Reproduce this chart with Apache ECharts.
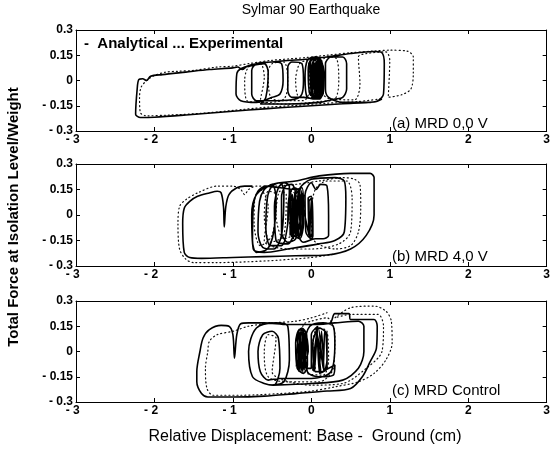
<!DOCTYPE html>
<html>
<head>
<meta charset="utf-8">
<script src="https://cdn.jsdelivr.net/npm/echarts@6/dist/echarts.min.js"></script>
<style>
  html, body { margin: 0; padding: 0; background: #fff; }
  #chart { width: 553px; height: 449px; }
</style>
</head>
<body>
<div id="chart"></div>
<script>
// tick values
const xTicks = [-3, -2, -1, 0, 1, 2, 3]
const yTicks = [-0.3, -0.15, 0, 0.15, 0.3]
const panelLabels = ['(a) MRD 0,0 V', '(b) MRD 4,0 V', '(c) MRD Control']

// (a) MRD 0,0 V  -- [displacement cm, force/weight]
const aAnalytical = [
  [0.0, -0.09], [-0.02, 0.1], [0.02, 0.13], [0.04, -0.08], [0.06, 0.12], [0.08, -0.09], [0.1, 0.12],
  [0.11, -0.08], [0.03, -0.1], [-0.01, 0.12], [0.05, 0.14], [0.07, -0.09], [0.09, 0.13], [0.12, -0.07],
  [0.01, -0.1], [0.03, 0.13], [0.05, -0.1], [0.08, 0.14], [0.1, -0.09], [0.12, 0.12], [0.0, -0.08],
  [0.02, -0.02], [0.05, 0.1], [0.1, 0.12], [0.12, 0.02], [0.1, -0.08], [0.04, -0.09], [0.0, 0.0],
  [0.02, 0.11], [0.08, 0.13], [0.13, 0.08], [0.13, -0.07], [0.08, -0.1], [-0.02, -0.08], [-0.04, 0.06],
  [0.0, 0.13], [0.08, 0.14], [0.14, 0.1], [0.15, -0.06], [0.1, -0.11], [-0.05, -0.1], [-0.08, 0.02],
  [-0.05, 0.12], [0.05, 0.14], [0.12, 0.12], [0.16, 0.05], [0.15, -0.08], [0.05, -0.11], [-0.1, -0.1],
  [-0.25, -0.1], [-0.3, -0.06], [-0.3, 0.08], [-0.25, 0.11], [-0.12, 0.1], [-0.1, 0.0], [-0.12, -0.08],
  [-0.2, -0.11], [-0.45, -0.12], [-0.7, -0.12], [-0.76, -0.08], [-0.76, 0.06], [-0.7, 0.1], [-0.5, 0.11],
  [-0.38, 0.1], [-0.36, 0.0], [-0.4, -0.08], [-0.5, -0.1], [-0.7, -0.13], [-0.9, -0.12], [-0.96, -0.08],
  [-0.95, 0.04], [-0.9, 0.07], [-0.75, 0.09], [-0.6, 0.1], [-0.55, 0.05], [-0.58, -0.1], [-0.65, -0.14],
  [-0.3, -0.14], [0.1, -0.13], [0.3, -0.11], [0.4, -0.1], [0.45, -0.05], [0.45, 0.1], [0.4, 0.14],
  [0.25, 0.14], [0.18, 0.1], [0.18, -0.05], [0.22, -0.1], [0.4, -0.13], [0.7, -0.13], [0.85, -0.12],
  [0.92, -0.08], [0.93, 0.1], [0.9, 0.165], [0.8, 0.172], [0.5, 0.16], [0.2, 0.14], [-0.1, 0.125],
  [-0.4, 0.115], [-0.7, 0.1], [-0.82, 0.085], [-0.88, 0.065], [-0.94, 0.08], [-1.0, 0.075],
  [-1.3, 0.065], [-1.6, 0.05], [-1.9, 0.035], [-2.05, 0.025], [-2.1, 0.0], [-2.15, 0.01], [-2.2, 0.005],
  [-2.22, -0.05], [-2.24, -0.2], [-2.18, -0.22], [-2.0, -0.218], [-1.6, -0.205], [-1.2, -0.19],
  [-0.8, -0.175], [-0.4, -0.162], [0.0, -0.15], [0.4, -0.138], [0.8, -0.128], [0.9, -0.11]
]
const aExperimental = [
  [0.05, -0.09], [0.0, 0.05], [0.05, 0.12], [0.1, 0.1], [0.1, -0.05], [0.05, -0.1], [-0.15, -0.1],
  [-0.2, 0.0], [-0.15, 0.1], [-0.05, 0.12], [-0.02, -0.05], [-0.1, -0.12], [-0.35, -0.12], [-0.52, -0.1],
  [-0.55, 0.05], [-0.5, 0.1], [-0.35, 0.11], [-0.3, 0.0], [-0.35, -0.11], [-0.6, -0.13], [-0.82, -0.12],
  [-0.85, 0.0], [-0.8, 0.08], [-0.65, 0.1], [-0.6, 0.02], [-0.65, -0.12], [-0.3, -0.14], [0.1, -0.125],
  [0.3, -0.11], [0.35, 0.0], [0.32, 0.13], [0.2, 0.14], [0.12, 0.1], [0.15, -0.08], [0.25, -0.11],
  [0.55, -0.115], [0.62, -0.02], [0.6, 0.14], [0.7, 0.16], [0.95, 0.17], [1.0, 0.12], [0.98, -0.1],
  [1.15, -0.085], [1.27, -0.05], [1.3, 0.05], [1.3, 0.14], [1.22, 0.175], [1.0, 0.18], [0.8, 0.175],
  [0.5, 0.165], [0.2, 0.15], [-0.1, 0.135], [-0.5, 0.12], [-0.8, 0.1], [-1.0, 0.085], [-1.2, 0.08],
  [-1.5, 0.06], [-1.7, 0.055], [-1.85, 0.05], [-2.0, 0.03], [-2.1, 0.0], [-2.17, -0.04], [-2.19, -0.1],
  [-2.18, -0.19], [-2.1, -0.21], [-1.8, -0.205], [-1.4, -0.195], [-1.0, -0.178], [-0.6, -0.16],
  [-0.2, -0.148], [0.2, -0.135], [0.6, -0.125], [0.9, -0.108]
]

// (b) MRD 4,0 V
const bAnalytical = [
  [-0.3, -0.05], [-0.28, 0.12], [-0.22, 0.16], [-0.15, 0.14], [-0.14, 0.0], [-0.2, -0.14], [-0.3, -0.16],
  [-0.38, -0.1], [-0.38, 0.1], [-0.33, 0.17], [-0.25, 0.18], [-0.2, 0.12], [-0.22, -0.1], [-0.3, -0.17],
  [-0.45, -0.15], [-0.47, 0.05], [-0.42, 0.16], [-0.35, 0.19], [-0.28, 0.17], [-0.3, -0.05], [-0.38, -0.18],
  [-0.52, -0.18], [-0.58, -0.08], [-0.56, 0.1], [-0.5, 0.17], [-0.4, 0.19], [-0.35, 0.14], [-0.38, -0.12],
  [-0.48, -0.2], [-0.62, -0.19], [-0.68, -0.1], [-0.66, 0.08], [-0.6, 0.15], [-0.5, 0.18], [-0.45, 0.1],
  [-0.48, -0.1], [-0.56, -0.2], [-0.7, -0.22], [-0.75, -0.15], [-0.74, 0.05], [-0.68, 0.14], [-0.58, 0.17],
  [-0.2, 0.15], [-0.12, 0.16], [-0.1, 0.05], [-0.15, -0.12], [-0.22, -0.08], [-0.2, 0.12], [-0.14, 0.15],
  [-0.1, -0.05], [-0.15, -0.14], [-0.25, -0.1], [-0.24, 0.12], [-0.2, -0.12], [-0.17, 0.13],
  [-0.13, -0.13], [-0.1, 0.12], [-0.27, -0.12], [-0.26, 0.13], [-0.19, -0.13], [-0.16, 0.14],
  [-0.23, -0.14], [-0.21, 0.14], [-0.15, -0.13], [-0.12, 0.13], [-0.25, -0.13], [-0.18, 0.15],
  [-0.03, -0.12], [-0.04, 0.1], [0.0, 0.11], [0.02, -0.1], [-0.02, -0.13], [0.0, 0.1], [0.01, -0.12],
  [-0.01, -0.13], [-0.03, 0.08], [0.01, 0.1], [0.02, -0.12], [0.0, -0.14], [-0.07, -0.1], [-0.08, 0.12],
  [0.0, 0.19], [0.06, 0.15], [0.12, 0.18], [0.2, 0.17], [0.22, 0.0], [0.22, -0.12], [0.15, -0.14],
  [0.05, -0.14], [-0.1, -0.16], [-0.18, -0.1], [-0.16, 0.14], [0.0, 0.21], [0.3, 0.22], [0.42, 0.2],
  [0.44, 0.1], [0.42, -0.1], [0.3, -0.15], [0.1, -0.17], [-0.3, -0.2], [-0.6, -0.22], [-0.74, -0.2],
  [-0.76, 0.0], [-0.7, 0.12], [-0.5, 0.18], [-0.2, 0.2], [0.1, 0.23], [0.5, 0.245], [0.75, 0.245],
  [0.8, 0.22], [0.8, 0.0], [0.7, -0.12], [0.5, -0.2], [0.2, -0.235], [-0.2, -0.24], [-0.6, -0.245],
  [-1.0, -0.25], [-1.4, -0.255], [-1.55, -0.25], [-1.62, -0.22], [-1.64, -0.05], [-1.62, 0.04],
  [-1.55, 0.08], [-1.45, 0.11], [-1.3, 0.13], [-1.2, 0.14], [-1.15, 0.13], [-1.12, 0.05], [-1.11, -0.07],
  [-1.09, 0.05], [-1.05, 0.12], [-0.95, 0.16], [-0.85, 0.17], [-0.75, 0.17]
]
const bExperimental = [
  [-0.25, -0.12], [-0.3, 0.05], [-0.25, 0.14], [-0.18, 0.1], [-0.2, -0.1], [-0.35, -0.14], [-0.45, 0.0],
  [-0.4, 0.14], [-0.32, 0.12], [-0.35, -0.12], [-0.52, -0.16], [-0.6, 0.0], [-0.55, 0.14], [-0.45, 0.12],
  [-0.5, -0.12], [-0.65, -0.18], [-0.73, -0.05], [-0.72, 0.1], [-0.65, 0.15], [-0.55, 0.05], [-0.6, -0.15],
  [-0.3, -0.2], [0.0, -0.2], [0.35, -0.17], [0.5, -0.1], [0.52, 0.1], [0.45, 0.2], [0.2, 0.2],
  [0.05, 0.15], [0.0, 0.0], [0.02, -0.14], [0.3, -0.2], [0.5, -0.18], [0.6, -0.1], [0.63, 0.05],
  [0.62, 0.18], [0.55, 0.21], [0.4, 0.22], [0.1, 0.2], [-0.2, 0.18], [-0.5, 0.17], [-0.7, 0.17],
  [-0.8, 0.15], [-0.85, 0.12], [-0.9, 0.15], [-1.0, 0.17], [-1.2, 0.17], [-1.45, 0.13], [-1.6, 0.09],
  [-1.68, 0.05], [-1.7, -0.05], [-1.68, -0.2], [-1.6, -0.26], [-1.5, -0.28], [-1.2, -0.28], [-0.8, -0.275],
  [-0.4, -0.265], [0.0, -0.25], [0.3, -0.23]
]

// (c) MRD Control
const cAnalytical = [
  [-0.15, -0.05], [-0.18, 0.1], [-0.12, 0.14], [-0.06, 0.1], [-0.05, -0.08], [-0.1, -0.13], [-0.18, -0.1],
  [-0.2, 0.05], [-0.15, 0.13], [-0.08, 0.12], [-0.04, 0.0], [-0.17, -0.11], [-0.14, 0.12],
  [-0.11, -0.12], [-0.08, 0.11], [-0.16, -0.12], [-0.12, 0.13], [-0.09, -0.11], [-0.06, 0.12],
  [-0.19, -0.09], [-0.16, 0.13], [-0.13, -0.12], [-0.1, 0.13], [-0.07, -0.1],
  [0.0, -0.1], [0.0, 0.1], [0.08, 0.15], [0.04, -0.12], [0.07, 0.13], [0.1, -0.12], [0.13, 0.12],
  [0.16, -0.11], [0.06, 0.14], [0.12, -0.12], [0.02, -0.11], [0.09, 0.14], [0.15, -0.1], [0.17, 0.12],
  [0.18, 0.12], [0.2, -0.05], [0.15, -0.12], [0.05, -0.12], [0.02, 0.05], [0.1, 0.14], [0.2, 0.1],
  [0.2, -0.1], [0.1, -0.13], [0.3, -0.08], [0.28, -0.14], [0.1, -0.15], [-0.05, -0.12], [-0.08, 0.05],
  [-0.02, 0.15], [0.15, 0.17], [0.28, 0.15], [0.3, 0.05], [0.25, -0.12], [0.0, -0.16], [-0.4, -0.16],
  [-0.55, -0.17], [-0.65, -0.12], [-0.68, 0.0], [-0.62, 0.1], [-0.5, 0.12], [-0.42, 0.08], [-0.4, -0.1],
  [-0.48, -0.2], [-0.6, -0.19], [-0.75, -0.15], [-0.8, 0.0], [-0.7, 0.14], [-0.45, 0.17], [-0.3, 0.15],
  [-0.28, -0.05], [-0.35, -0.18], [-0.5, -0.2], [0.0, -0.19], [0.4, -0.17], [0.6, -0.1], [0.67, 0.0],
  [0.67, 0.15], [0.6, 0.18], [0.3, 0.17], [0.0, 0.16], [-0.3, 0.16], [-0.6, 0.17], [-0.8, 0.17],
  [-0.9, 0.165], [-0.95, 0.1], [-0.98, -0.04], [-1.0, 0.1], [-1.05, 0.15], [-1.15, 0.155], [-1.3, 0.13],
  [-1.38, 0.08], [-1.42, 0.0], [-1.46, -0.12], [-1.46, -0.18], [-1.4, -0.25], [-1.32, -0.27], [-1.0, -0.27],
  [-0.6, -0.265], [-0.2, -0.25], [0.2, -0.235], [0.5, -0.22], [0.65, -0.15], [0.75, -0.06], [0.83, 0.02],
  [0.84, 0.15], [0.8, 0.19], [0.5, 0.19], [0.48, 0.225], [0.3, 0.225], [0.24, 0.17], [0.0, 0.16]
]
const cExperimental = [
  [0.05, -0.1], [0.02, 0.05], [0.08, 0.14], [0.2, 0.12], [0.22, -0.05], [0.15, -0.14], [-0.1, -0.12],
  [-0.15, 0.02], [-0.1, 0.16], [0.0, 0.18], [0.2, 0.2], [0.3, 0.1], [0.28, -0.1], [0.1, -0.18],
  [-0.3, -0.18], [-0.55, -0.15], [-0.6, 0.0], [-0.55, 0.1], [-0.45, 0.08], [-0.5, -0.12], [0.0, -0.2],
  [0.4, -0.19], [0.7, -0.1], [0.9, 0.0], [0.92, 0.15], [0.85, 0.22], [0.5, 0.22], [0.3, 0.2],
  [0.5, 0.26], [0.8, 0.27], [0.95, 0.24], [1.02, 0.18], [1.03, 0.05], [0.95, -0.05], [0.8, -0.13],
  [0.6, -0.18], [0.3, -0.21], [0.0, -0.235], [-0.4, -0.25], [-0.9, -0.26], [-1.25, -0.26], [-1.33, -0.22],
  [-1.35, -0.1], [-1.32, 0.0], [-1.3, 0.06], [-1.2, 0.1], [-1.0, 0.12], [-0.8, 0.15], [-0.5, 0.17],
  [-0.2, 0.18], [0.0, 0.2], [0.2, 0.23]
]

const analytical = [aAnalytical, bAnalytical, cAnalytical]
const experimental = [aExperimental, bExperimental, cExperimental]

const chart = echarts.init(document.getElementById('chart'), null, { renderer: 'canvas' })

const grids = [
  { left: 76, top: 30, width: 472, height: 101 },
  { left: 76, top: 164, width: 472, height: 102 },
  { left: 76, top: 301, width: 472, height: 101 }
]
const font = 'Liberation Sans, Arial, Helvetica, sans-serif'
const black = '#000'

function xFmt(v) {
  if (v < 0) return '- ' + (-v) + '  '
  return String(v)
}
function yFmt(v) {
  if (Math.abs(v) < 1e-9) return '0'
  if (v < 0) return '- ' + (+(-v).toFixed(2))
  return String(+v.toFixed(2))
}

const xAxes = []
const yAxes = []
const series = []
grids.forEach((g, i) => {
  // bottom + top x axes
  xAxes.push({
    gridIndex: i, type: 'value', min: xTicks[0], max: xTicks[xTicks.length - 1], interval: 1,
    position: 'bottom',
    axisLine: { show: true, onZero: false, lineStyle: { color: black, width: 1 } },
    axisTick: { show: true, inside: true, length: 4, lineStyle: { color: black } },
    axisLabel: { formatter: xFmt, color: black, fontSize: 12, fontWeight: 'bold', fontFamily: font, margin: 3 },
    splitLine: { show: false }
  })
  xAxes.push({
    gridIndex: i, type: 'value', min: -3, max: 3, interval: 1, position: 'top',
    axisLine: { show: true, onZero: false, lineStyle: { color: black, width: 1 } },
    axisTick: { show: true, inside: true, length: 4, lineStyle: { color: black } },
    axisLabel: { show: false },
    splitLine: { show: false }
  })
  yAxes.push({
    gridIndex: i, type: 'value', min: yTicks[0], max: yTicks[yTicks.length - 1], interval: 0.15,
    position: 'left',
    axisLine: { show: true, onZero: false, lineStyle: { color: black, width: 1 } },
    axisTick: { show: true, inside: true, length: 4, lineStyle: { color: black } },
    axisLabel: { formatter: yFmt, color: black, fontSize: 12, fontWeight: 'bold', fontFamily: font, margin: 3 },
    splitLine: { show: false }
  })
  yAxes.push({
    gridIndex: i, type: 'value', min: -0.3, max: 0.3, interval: 0.15, position: 'right',
    axisLine: { show: true, onZero: false, lineStyle: { color: black, width: 1 } },
    axisTick: { show: true, inside: true, length: 4, lineStyle: { color: black } },
    axisLabel: { show: false },
    splitLine: { show: false }
  })
  series.push({
    name: 'Experimental', type: 'line', xAxisIndex: i * 2, yAxisIndex: i * 2,
    data: experimental[i], symbol: 'none', smooth: 0.3, silent: true,
    lineStyle: { color: '#111', width: 1.2, type: [1, 3], cap: 'round' }
  })
  series.push({
    name: 'Analytical', type: 'line', xAxisIndex: i * 2, yAxisIndex: i * 2,
    data: analytical[i], symbol: 'none', smooth: 0.3, silent: true,
    lineStyle: { color: black, width: 1.6 }
  })
})

const graphics = [
  { type: 'text', x: 311, y: 10, style: { text: 'Sylmar 90 Earthquake', font: '14px ' + font, fill: black, align: 'center', verticalAlign: 'middle' } },
  { type: 'text', x: 84, y: 44, style: { text: '-  Analytical ... Experimental', font: 'bold 15px ' + font, fill: black, verticalAlign: 'middle' } },
  {
    type: 'text', x: 14, y: 217, rotation: Math.PI / 2,
    style: { text: 'Total Force at Isolation Level/Weight', font: 'bold 15px ' + font, fill: black, align: 'center', verticalAlign: 'middle' }
  },
  { type: 'text', x: 305, y: 437, style: { text: 'Relative Displacement: Base -  Ground (cm)', font: '16px ' + font, fill: black, align: 'center', verticalAlign: 'middle' } }
]
const labelY = [124, 257, 391]
panelLabels.forEach((t, i) => {
  graphics.push({ type: 'text', x: 392, y: labelY[i], style: { text: t, font: '15px ' + font, fill: black, verticalAlign: 'middle' } })
})

chart.setOption({
  animation: false,
  backgroundColor: '#fff',
  grid: grids,
  xAxis: xAxes,
  yAxis: yAxes,
  series: series,
  graphic: graphics
})
</script>
</body>
</html>
